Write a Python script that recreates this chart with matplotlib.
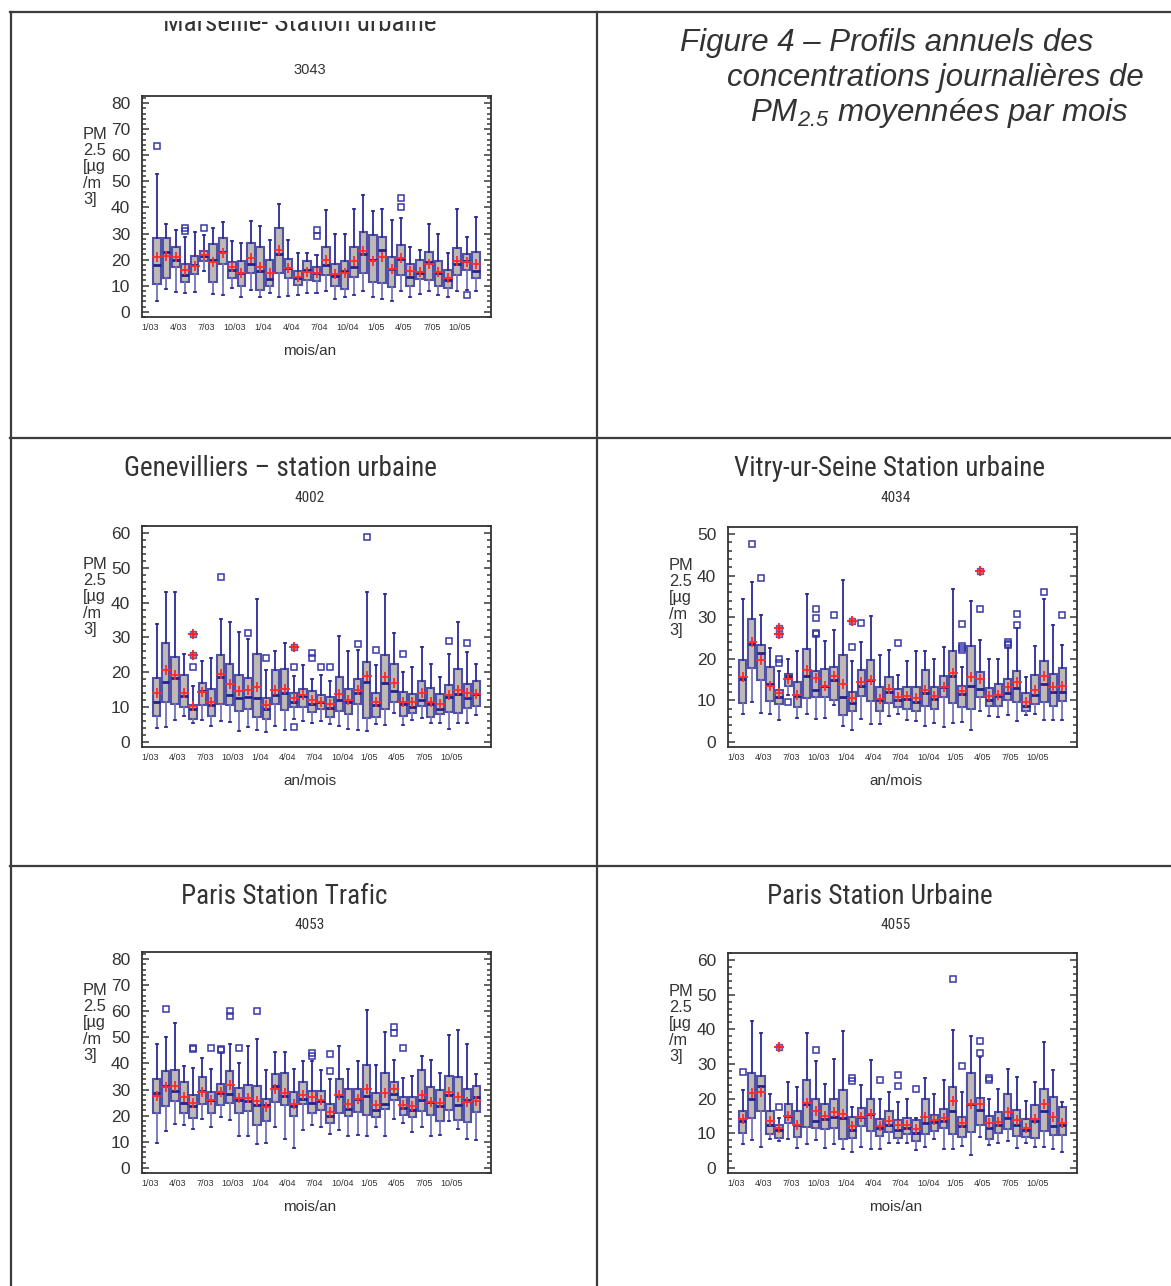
import numpy as np
import matplotlib
matplotlib.use("Agg")
import matplotlib.pyplot as plt
from matplotlib.lines import Line2D
from matplotlib.patches import Rectangle
from matplotlib.ticker import MultipleLocator

W, H, DPI = 1171, 1286, 100

plt.rcParams['font.family'] = ['Liberation Sans', 'DejaVu Sans']
plt.rcParams['mathtext.fontset'] = 'custom'
plt.rcParams['mathtext.it'] = 'Liberation Sans:italic'
plt.rcParams['mathtext.rm'] = 'Liberation Sans:italic'
COND = ['Roboto Condensed', 'Roboto', 'DejaVu Sans']

TICK_MONTHS = [1, 4, 7, 10, 13, 16, 19, 22, 25, 28, 31, 34]
TICK_LABELS = ["1/03", "4/03", "7/03", "10/03", "1/04", "4/04",
               "7/04", "10/04", "1/05", "4/05", "7/05", "10/05"]

# ---- Marseille 3043 (1/03 .. 11/05) ----
MRS_HI = [53, 33.5, 31.5, 28.5, 30.5, 29.3, 32, 34.5, 27, 26.5, 34.8, 33, 27.5, 41.5, 27.5, 22.5, 22.5, 21.8,
          39, 30, 30, 39.3, 44.8, 38.8, 39.3, 35.3, 36, 25, 23.5, 33.5, 30, 22.5, 39.3, 28.5, 36.3]
MRS_Q3 = [28.3, 28.3, 25, 18.5, 21.3, 23.3, 26, 28.3, 19, 19.5, 26.5, 25, 20, 32.3, 20.3, 15.8, 19.5, 17.3,
          25, 18.5, 19.5, 25, 30.5, 29.5, 28.8, 21, 25.5, 18.5, 20, 23, 19.5, 16, 24.5, 22.3, 23]
MRS_MED = [18, 23, 20, 14, 18, 21.5, 20, 23, 16, 15, 18.5, 15.5, 12.5, 22.3, 16.8, 13, 16, 15,
           18, 13.7, 15.8, 17.3, 22, 19.8, 23.5, 16.3, 20.3, 13.5, 15, 19, 15, 12.3, 18.3, 19.5, 15.8]
MRS_Q1 = [10.5, 13, 17.3, 11.3, 14.3, 19.5, 11.5, 18.2, 13, 10, 15, 8.3, 10, 15, 12.8, 10.3, 12, 11.7,
          14, 9.8, 8.8, 13.2, 14.8, 11.3, 11, 9.5, 14, 10, 12.5, 12.3, 9.8, 9, 14, 16, 13]
MRS_LO = [4.3, 8.7, 7.5, 7.3, 7.5, 15.5, 6.8, 6.5, 9.3, 5.5, 8.5, 5.5, 7.3, 5.8, 6.2, 6.5, 7.3, 7.3,
          7.8, 5, 5.8, 6.3, 7.8, 5.5, 5, 4, 7.8, 5.5, 7, 8, 6.5, 5.5, 8, 8.3, 8]
MRS_MEAN = [21, 21.3, 21, 16, 17.5, 21.7, 19, 22.5, 17, 14.8, 20.5, 17.3, 15, 23.5, 16.8, 13.3, 15.3, 15,
            19.8, 14.3, 15, 19.5, 23.3, 19.5, 21, 16.3, 20.5, 15.8, 15.3, 18.3, 15.3, 12.8, 19.5, 19, 18.3]
MRS_OUT_M = [1, 4, 4, 6, 18, 18, 27, 27, 34]
MRS_OUT_V = [63.5, 32, 31, 32, 31.5, 29, 43.5, 40, 6.3]
MRS_RED_M = []
MRS_RED_V = []

# ---- Genevilliers 4002 ----
GEN_HI = [34, 43, 43, 25.3, 16, 23.3, 24, 35.3, 34.5, 31.5, 29.5, 41, 20.5, 26, 28.5, 19, 22, 18,
          19.3, 17.5, 30.5, 26, 26.3, 43, 22, 42.5, 31.3, 20, 21.5, 27.3, 22.3, 18.5, 25.3, 34.3, 25.8, 22.5]
GEN_Q3 = [18.3, 28.3, 24.5, 19.3, 10.5, 17, 15.3, 25, 22.3, 19.3, 18.3, 25.3, 12.5, 20.5, 21, 14, 15.3, 14.5,
          13.5, 12.8, 18.5, 15.3, 18, 22.8, 14, 25, 22.5, 14.3, 13.8, 17.5, 15.5, 13.8, 16.3, 20.8, 16.5, 17.5]
GEN_MED = [11.3, 17.3, 18.3, 13.3, 9.5, 14.5, 10.5, 18.5, 13.5, 12.5, 13, 12.5, 9.3, 13.5, 14, 11.5, 13.2, 11,
           11.5, 9.8, 12, 11.3, 14, 17.3, 10.5, 17, 14.5, 10.8, 10, 12, 11, 9.5, 13, 13.8, 12.5, 13.8]
GEN_Q1 = [7.5, 11.3, 11, 10, 6.5, 10.5, 7.5, 11, 10.5, 8.8, 9.3, 7, 6.5, 11, 9, 10, 10, 8.5,
          9.5, 7, 8.8, 8, 11, 6.8, 7, 9.5, 11.5, 7.3, 8.3, 10.3, 7, 8, 8.5, 8.3, 9.8, 10.3]
GEN_LO = [4, 4.3, 6.3, 7.3, 5.3, 6.3, 4.5, 6, 5.8, 3, 4.3, 3.5, 2.8, 4.5, 3.5, 6.5, 6, 5.5,
          6, 5, 4.5, 3.8, 3.3, 3, 5, 4.8, 8.3, 4.8, 6.3, 6.8, 5.3, 5.5, 3.8, 5.5, 5.3, 7.8]
GEN_MEAN = [14, 20.5, 19.3, 14, 10.3, 14.3, 11.3, 19.5, 16.5, 14.5, 14.8, 15.8, 10.5, 15, 15.3, 12.5, 13.5, 12,
            11.3, 10.8, 13.8, 12, 14.8, 19, 11.5, 18.5, 16.8, 11.5, 11.5, 14, 11.3, 10.8, 13.5, 14.8, 14, 13.8]
GEN_OUT_M = [5, 8, 11, 13, 16, 16, 18, 18, 19, 20, 23, 24, 25, 28, 33, 35]
GEN_OUT_V = [21.5, 47.5, 31.3, 24, 21.5, 4.2, 25.5, 24, 21.5, 21.5, 28, 59, 26.5, 25.3, 29, 28.5]
GEN_RED_M = [5, 5, 16]
GEN_RED_V = [31, 25, 27.3]

# ---- Vitry-sur-Seine 4034 ----
VIT_HI = [34.3, 38.5, 30.5, 22.5, 17, 20, 21.8, 35.5, 25.5, 24.3, 26.8, 39, 19.5, 24, 30.3, 20.8, 22, 16,
          19.5, 21.8, 21.8, 20, 22.8, 36.8, 18, 34, 24.5, 20, 20, 22.5, 27.5, 15.5, 23, 34.3, 28, 23.3]
VIT_Q3 = [19.8, 29.5, 23.3, 18, 12.5, 16.3, 14.3, 22.3, 17, 17.5, 18, 20.8, 12, 17.3, 19.8, 13.3, 15.5, 12.8,
          13.3, 13.3, 17.3, 13.3, 15.8, 21.8, 13.5, 23, 16.8, 13, 14, 15, 17, 11.8, 16, 19.5, 16.3, 17.8]
VIT_MED = [15, 23.5, 21.3, 13.8, 10.8, 15.8, 11, 15.8, 12.5, 13.5, 14.8, 10.8, 9.3, 13.5, 14.8, 10, 12, 10,
           10.3, 9.7, 11.8, 10.3, 13.3, 15.8, 11.5, 13.5, 12.8, 10, 11, 11.8, 13, 8.7, 11.3, 14, 12, 12]
VIT_Q1 = [9.3, 17.8, 14.8, 9.8, 9, 13.5, 8.3, 10.5, 10.8, 10.8, 10, 6.5, 7.3, 11, 9.8, 7.5, 9.3, 8.3,
          8, 7.5, 8.5, 7.8, 10.8, 9.3, 8.3, 7.8, 10.8, 8.5, 8.5, 10, 9.5, 7.3, 9, 9.5, 8.5, 9.8]
VIT_LO = [6.7, 9.5, 7, 6.7, 5.3, 11.3, 5.8, 6.7, 5.5, 5.8, 8.8, 3.8, 2.8, 5.5, 4.3, 4.3, 6.3, 6.7,
          5.3, 5, 3.8, 4.5, 3.5, 4.5, 4.8, 2.8, 7.5, 6.3, 6, 6.5, 5, 6.5, 6.7, 5.3, 5.3, 5.3]
VIT_MEAN = [15.5, 24, 19.8, 13.5, 11.8, 15, 11.3, 17.3, 15.3, 13.5, 15.8, 14, 10.5, 14.5, 14.8, 10.3, 12.8, 10.8,
            11, 10.5, 12.5, 11, 13.3, 16.5, 12.3, 15.5, 15, 11, 11.3, 13.3, 14.3, 9.5, 12.5, 15.8, 13.3, 13.5]
VIT_OUT_M = [2, 3, 5, 5, 6, 9, 9, 9, 9, 11, 13, 14, 18, 25, 25, 25, 25, 27, 30, 30, 30, 31, 31, 34, 36]
VIT_OUT_V = [47.5, 39.5, 20, 19, 9.5, 32, 29.8, 26.3, 26, 30.5, 22.8, 28.5, 23.8, 28.3, 23, 22.5, 22,
             32, 24, 23.5, 23.2, 30.8, 28, 36, 30.5]
VIT_RED_M = [5, 5, 13, 27]
VIT_RED_V = [27.5, 26, 29, 41]

# ---- Paris trafic 4053 ----
PTR_HI = [47.5, 50, 55.5, 39, 38.3, 42, 38, 44, 47.3, 40, 46.5, 49.5, 37.5, 44.5, 44.5, 38, 40.8, 41,
          37.5, 34, 46.5, 38, 41, 60.5, 39.5, 52, 41.5, 34.3, 35.3, 42.8, 41.5, 36.5, 50.8, 53, 47.3, 36]
PTR_Q3 = [34, 37, 37.5, 33, 27.8, 34.8, 29, 32.3, 37, 30.5, 31.8, 31.5, 26.3, 36, 36.3, 29, 33, 29.3,
          29.5, 24.5, 34, 30.3, 30.3, 39.5, 28.5, 36.5, 33, 27, 27.3, 37.3, 31, 30, 35, 34.8, 30.3, 31.3]
PTR_MED = [28.5, 31.3, 29.5, 25, 23.5, 29.3, 26, 28.5, 28.3, 26, 25.5, 24, 24, 31.3, 27.5, 23.8, 26.5, 25,
           25.5, 20, 27.5, 22.5, 26.5, 27.5, 22, 24.5, 28.3, 23, 22, 26, 25.3, 23.5, 28, 24, 26, 27.3]
PTR_Q1 = [21, 23.5, 25.5, 21, 19, 24.5, 21, 24, 25, 21, 21.8, 16.5, 17.8, 25.3, 24, 20, 24.3, 21,
          22, 17, 21, 20, 21.5, 20.3, 19.5, 22.5, 26, 20.3, 19.3, 21.8, 20.3, 17.8, 22, 18.3, 17.5, 21.5]
PTR_LO = [9.5, 14, 16.8, 16.5, 15, 18.8, 15.8, 19.5, 18.5, 12, 12, 9.3, 9.5, 15.5, 11, 7.5, 14.3, 16.5,
          15.5, 13, 14.5, 12.3, 12.5, 12.3, 15.5, 12.3, 18.8, 17.3, 13.8, 15.8, 12.3, 12.5, 18, 14.8, 11, 10.8]
PTR_MEAN = [27.5, 31, 31.3, 27, 25, 29, 25.8, 29, 31.8, 26.8, 26.8, 25.5, 23.3, 30.3, 28.5, 24.3, 27.8, 27,
            25.8, 21.3, 28, 24.3, 26.5, 30.3, 24, 28.5, 30.3, 24, 23.5, 28, 25.3, 24.8, 29, 27, 25.3, 25.5]
PTR_OUT_M = [2, 5, 5, 7, 8, 8, 9, 9, 10, 12, 18, 18, 20, 20, 27, 27, 28]
PTR_OUT_V = [61, 46, 45.5, 45.8, 45.5, 45, 60, 58, 46, 60, 44, 42.8, 43.5, 37, 54, 51.5, 46]
PTR_RED_M = []
PTR_RED_V = []

# ---- Paris urbaine 4055 ----
PUR_HI = [22.5, 42.5, 38.8, 21.3, 14.5, 24.8, 23.3, 39, 30.8, 24.3, 31.3, 39.5, 17.5, 24, 31, 19.8, 21.8, 19,
          19.8, 14.3, 25.8, 21.3, 25.5, 39.8, 22, 38, 32, 20, 22.8, 28.5, 26.3, 19.3, 24.8, 36.3, 28.3, 19]
PUR_Q3 = [16.3, 27.5, 26.5, 16.5, 12.3, 18.3, 16.5, 25.3, 20, 18.5, 19.8, 22.5, 14.8, 17.3, 20, 14, 16.3, 13.8,
          14.5, 13.8, 19.8, 15.3, 17, 23.3, 14.8, 27.5, 20.3, 15, 16, 21.3, 16.8, 14, 18, 22.8, 20.5, 17.5]
PUR_MED = [13.5, 19.8, 23.5, 12.5, 10.8, 15, 12.5, 18.5, 13.5, 14, 14.8, 14.3, 11, 14.8, 15.5, 11.5, 12.5, 11,
           11.5, 10, 12.8, 13.3, 13.5, 16.5, 12, 18.5, 16.8, 11.5, 12.3, 14.5, 12.3, 11, 13.5, 16.3, 12, 12.5]
PUR_Q1 = [10, 14.3, 16.5, 9.8, 8.5, 12.8, 9, 11.8, 11.5, 11.3, 11.5, 8.3, 8.5, 12, 10.5, 9.3, 10.3, 8.5,
          9.8, 7.8, 9.8, 10.5, 11.5, 9.8, 9, 10.3, 12.5, 8.3, 10, 11.3, 9.3, 9, 8.5, 10.5, 9.5, 9.5]
PUR_LO = [6.8, 8, 6, 8.3, 7.8, 8.3, 5.8, 7, 8, 5.8, 6.8, 5.3, 4.5, 6, 5.3, 5.5, 7.3, 7.3,
          7.3, 5, 6, 8.3, 5.5, 5.5, 6.3, 3.8, 9, 6.5, 7.3, 7.8, 5.8, 7.3, 6, 6, 5.5, 4.5]
PUR_MEAN = [14, 21.5, 22, 13.5, 11.5, 15, 12.3, 18.8, 16.5, 15, 16, 15.5, 12, 14.8, 15.5, 12, 13.5, 12.3,
            12.3, 11.3, 14.8, 13.8, 14.3, 19.3, 13, 18.5, 18.5, 12.8, 13.3, 16, 13.8, 11.5, 14, 18.5, 14.8, 12.8]
PUR_OUT_M = [1, 5, 9, 13, 13, 16, 18, 18, 20, 24, 25, 27, 27, 28, 28]
PUR_OUT_V = [27.8, 17.5, 34, 26, 25, 25.3, 26.8, 23.5, 22.8, 54.5, 29.3, 36.5, 33.3, 26, 25.3]
PUR_RED_M = [5]
PUR_RED_V = [35]


def fx(x):
    return x / W


def fy(y):
    return 1 - y / H


def px_rect(x0, y0, x1, y1):
    return [x0 / W, 1 - y1 / H, (x1 - x0) / W, (y1 - y0) / H]


fig = plt.figure(figsize=(W / DPI, H / DPI), dpi=DPI)
fig.patch.set_facecolor('white')

# table frame around the five charts and the caption
grid_kw = dict(color='#3c3c3c', lw=1.6, transform=fig.transFigure, zorder=6)
for yy in (12, 438, 866):
    fig.add_artist(Line2D([fx(10), 1.0], [fy(yy), fy(yy)], **grid_kw))
for xx in (10.5, 597):
    fig.add_artist(Line2D([fx(xx), fx(xx)], [fy(12), 0.0], **grid_kw))

TXT = '#333333'


def draw_panel(box, ymax, lo, q1, med, q3, hi, mean, out_m, out_v, red_m, red_v, xlabel):
    x0, y0, x1, y1 = box
    ax = fig.add_axes(px_rect(x0, y0, x1, y1))
    n = len(med)
    pos = np.arange(1, n + 1)
    stats = []
    for i in range(n):
        fl = [v for m, v in zip(out_m, out_v) if m == i + 1]
        stats.append(dict(med=med[i], q1=q1[i], q3=q3[i], whislo=lo[i], whishi=hi[i],
                          mean=mean[i], fliers=fl))
    art = ax.bxp(stats, positions=pos, widths=0.82, patch_artist=True, showmeans=True,
                 capwidths=0.22, manage_ticks=False,
                 boxprops=dict(facecolor='#bfb9b6', edgecolor='#5050a6', lw=1.5),
                 medianprops=dict(color='#22228a', lw=2.0),
                 whiskerprops=dict(color='#2a2a98', lw=1.3),
                 capprops=dict(color='#2a2a98', lw=1.3),
                 meanprops=dict(marker='+', markeredgecolor='#ff2a2a', markersize=7,
                                markeredgewidth=1.3, linestyle='none'),
                 flierprops=dict(marker='s', markerfacecolor='none', markeredgecolor='#3838a8',
                                 markersize=4.3, markeredgewidth=1.1, linestyle='none'))
    for w in art['whiskers'][0::2]:
        w.set_color('#7474bc')
    if red_m:
        ax.plot(red_m, red_v, 's', mfc='#e87070', mec='#5a5aaa', ms=4.6, mew=1.0, zorder=4)
        ax.plot(red_m, red_v, '+', color='#ff1e1e', ms=6.5, mew=1.3, zorder=5)

    ax.set_xlim(-0.6, n + 1.6)
    ax.set_ylim(-0.025 * ymax, 1.034 * ymax)
    ax.yaxis.set_minor_locator(MultipleLocator(2))
    ax.set_yticks(np.arange(0, ymax + 1, 10))
    ax.tick_params(axis='y', which='both', direction='in', left=True, right=True,
                   color='#555555', width=1.3, labelsize=12.5, labelcolor=TXT, pad=8.5)
    ax.tick_params(axis='y', which='major', length=5)
    ax.tick_params(axis='y', which='minor', length=3)
    ax.set_xticks(np.array(TICK_MONTHS) - 0.7)
    ax.set_xticklabels(TICK_LABELS)
    ax.tick_params(axis='x', length=0, labelsize=6.5, labelcolor=TXT, pad=4)
    for s in ax.spines.values():
        s.set_color('#333333')
        s.set_linewidth(1.3)

    fig.text(fx(x0 - 59), fy(y0 + 31), "PM\n2.5\n[µg\n/m\n3]", ha='left', va='top',
             fontsize=11.8, linespacing=1.1, color=TXT)
    fig.text(fx(x0 + 168), fy(y1 + 34), xlabel, ha='center', va='center', fontsize=11, color=TXT)
    return ax


draw_panel((142, 96, 491, 317), 80, MRS_LO, MRS_Q1, MRS_MED, MRS_Q3, MRS_HI, MRS_MEAN,
           MRS_OUT_M, MRS_OUT_V, MRS_RED_M, MRS_RED_V, "mois/an")
draw_panel((142, 526, 491, 747), 60, GEN_LO, GEN_Q1, GEN_MED, GEN_Q3, GEN_HI, GEN_MEAN,
           GEN_OUT_M, GEN_OUT_V, GEN_RED_M, GEN_RED_V, "an/mois")
draw_panel((728, 527, 1077, 747), 50, VIT_LO, VIT_Q1, VIT_MED, VIT_Q3, VIT_HI, VIT_MEAN,
           VIT_OUT_M, VIT_OUT_V, VIT_RED_M, VIT_RED_V, "an/mois")
draw_panel((142, 952, 491, 1173), 80, PTR_LO, PTR_Q1, PTR_MED, PTR_Q3, PTR_HI, PTR_MEAN,
           PTR_OUT_M, PTR_OUT_V, PTR_RED_M, PTR_RED_V, "mois/an")
draw_panel((728, 953, 1077, 1173), 60, PUR_LO, PUR_Q1, PUR_MED, PUR_Q3, PUR_HI, PUR_MEAN,
           PUR_OUT_M, PUR_OUT_V, PUR_RED_M, PUR_RED_V, "mois/an")

# station titles and codes
title_kw = dict(ha='center', va='baseline', fontsize=19.5, family=COND, color=TXT,
                fontstretch='condensed')
fig.text(fx(300), fy(31), "Marseille- Station urbaine", zorder=3, **title_kw)
# the first title is cut by the top edge of its cell
fig.add_artist(Rectangle((fx(0), fy(21)), fx(W), fy(0) - fy(21), transform=fig.transFigure,
                         facecolor='white', edgecolor='none', zorder=5))
fig.text(fx(280), fy(476), "Genevilliers – station urbaine", **title_kw)
fig.text(fx(889), fy(476), "Vitry-ur-Seine Station urbaine", **title_kw)
fig.text(fx(284), fy(904), "Paris Station Trafic", **title_kw)
fig.text(fx(880), fy(904), "Paris Station Urbaine", **title_kw)

fig.text(fx(310), fy(70), "3043", ha='center', va='center', fontsize=10.5, color=TXT)
code_kw = dict(ha='center', va='center', fontsize=11, family=COND, color=TXT,
               fontstretch='condensed')
fig.text(fx(310), fy(498), "4002", **code_kw)
fig.text(fx(896), fy(498), "4034", **code_kw)
fig.text(fx(310), fy(925), "4053", **code_kw)
fig.text(fx(896), fy(925), "4055", **code_kw)

# caption
cap_kw = dict(ha='left', va='baseline', fontsize=22.5, style='italic', color=TXT, zorder=7)
fig.text(fx(680), fy(51), "Figure 4 – Profils annuels des", **cap_kw)
fig.text(fx(727), fy(86), "concentrations journalières de", **cap_kw)
fig.text(fx(750), fy(121), r"PM$_{2.5}$ moyennées par mois", **cap_kw)

fig.savefig("out.png", dpi=DPI)
